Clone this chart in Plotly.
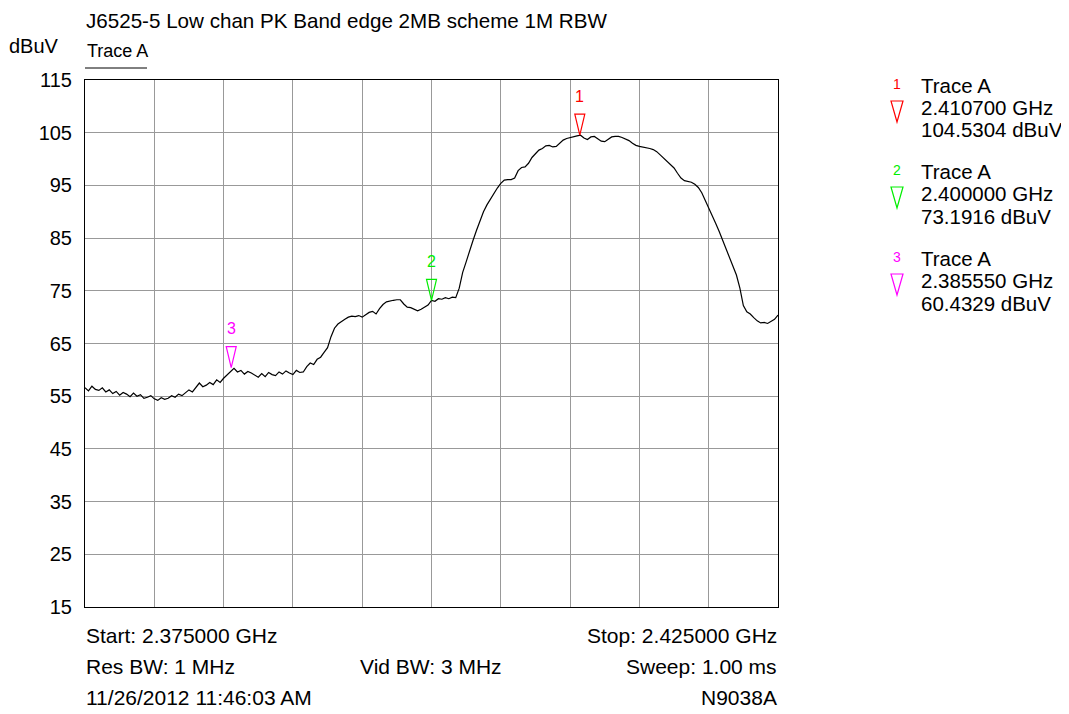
import numpy as np
import plotly.graph_objs as go

# sweep setup (GHz) - analyzer points are evenly spaced between start and stop
f_start = 2.375
f_stop = 2.425

# trace A amplitude, dBuV, every 0.25 MHz
trace_a = [
    56.6, 56.0, 56.9, 56.3, 56.1, 56.6, 55.8, 56.2, 55.5, 55.9,
    55.2, 55.7, 55.4, 54.9, 55.6, 55.0, 55.3, 54.6, 54.8, 55.1,
    54.5, 54.2, 54.7, 54.4, 54.6, 55.1, 54.8, 55.4, 55.1, 55.7,
    56.2, 55.8, 56.7, 57.5, 56.8, 57.1, 57.6, 57.2, 58.1, 57.6,
    58.4, 59.1, 59.6, 60.3, 59.6, 59.9, 59.2, 59.7, 59.4, 59.0,
    58.6, 59.3, 58.7, 59.5, 59.1, 58.9, 59.6, 59.2, 59.8, 59.4,
    59.1, 59.9, 59.5, 59.6, 60.6, 61.3, 61.0, 62.0, 62.4, 63.3,
    64.2, 66.3, 67.9, 68.7, 69.2, 69.6, 70.0, 70.2, 70.1, 70.3,
    70.0, 70.4, 70.9, 71.1, 70.6, 71.6, 72.4, 72.9, 73.1, 73.2,
    73.3, 73.3, 72.5, 71.9, 71.8, 71.5, 71.2, 71.5, 71.9, 72.3,
    73.19, 73.0, 73.5, 73.4, 73.7, 73.5, 73.8, 73.7, 75.5, 78.5,
    80.5, 82.8, 84.6, 86.5, 88.3, 90.0, 91.3, 92.4, 93.5, 94.5,
    95.4, 96.0, 96.1, 96.1, 96.4, 97.8, 98.4, 98.5, 99.2, 100.3,
    101.0, 101.7, 102.0, 102.5, 102.6, 102.3, 102.4, 103.0, 103.6, 103.9,
    104.1, 104.3, 104.4, 104.53, 104.0, 103.7, 104.2, 104.3, 103.8, 103.4,
    103.3, 103.7, 104.2, 104.3, 104.3, 104.1, 103.8, 103.5, 103.0, 102.6,
    102.4, 102.3, 102.2, 102.0, 101.8, 101.4, 100.8, 100.2, 99.5, 98.9,
    98.3, 97.3, 96.4, 95.9, 95.8, 95.6, 95.2, 94.6, 93.6, 92.2,
    90.9, 89.3, 87.8, 86.3, 84.6, 83.2, 81.5, 79.8, 78.0, 75.5,
    72.2, 71.0, 70.6, 69.9, 69.3, 68.9, 69.0, 68.8, 69.2, 69.6,
    70.4,
]

# markers
marker_ids = ['1', '2', '3']
marker_freq = [2.410700, 2.400000, 2.385550]
marker_level = [104.5304, 73.1916, 60.4329]
marker_colors = ['#ff0000', '#00ee00', '#ff00ff']

y_ticks = [15, 25, 35, 45, 55, 65, 75, 85, 95, 105, 115]

FONT = 'Liberation Sans, Arial, sans-serif'
W, H = 1069, 714
L, R, T, B = 85, 778, 80, 607
PAGE_OFF = 8  # page body margin pushes the figure right/down


def px(x):
    return (x - L) / (R - L)


def py(y):
    return (B - y) / (B - T)


def build():
    freqs = np.linspace(f_start, f_stop, len(trace_a))
    fig = go.Figure()
    fig.add_trace(go.Scatter(x=freqs, y=trace_a, mode='lines',
                             line=dict(color='black', width=1.2),
                             showlegend=False, hoverinfo='skip'))

    shapes = []
    annotations = []

    # marker triangles on the trace, tip sitting on the point
    for mid, f, v, c in zip(marker_ids, marker_freq, marker_level, marker_colors):
        shapes.append(dict(type='path', xref='x', yref='y',
                           xsizemode='pixel', ysizemode='pixel',
                           xanchor=f, yanchor=v,
                           path='M -5 21 L 5 21 L 0 0 Z',
                           line=dict(color=c, width=1.2),
                           fillcolor='rgba(0,0,0,0)'))
        annotations.append(dict(x=f, y=v, xref='x', yref='y', text=mid,
                                showarrow=False, yshift=39,
                                font=dict(size=16, color=c, family=FONT)))

    # marker table on the right
    group_top = [85, 171, 258]
    for mid, f, v, c, gy in zip(marker_ids, marker_freq, marker_level, marker_colors, group_top):
        lines = ['Trace A', '%.6f GHz' % f, '%.4f dBuV' % v]
        for k, t in enumerate(lines):
            annotations.append(dict(x=px(919), y=py(gy + k * 22.5), xref='paper', yref='paper',
                                    text=t, showarrow=False, xanchor='left', yanchor='middle',
                                    font=dict(size=20.5, color='black', family=FONT)))
        annotations.append(dict(x=px(897), y=py(gy - 1), xref='paper', yref='paper',
                                text=mid, showarrow=False, xanchor='center', yanchor='middle',
                                font=dict(size=14, color=c, family=FONT)))
        shapes.append(dict(type='path', xref='paper', yref='paper',
                           xsizemode='pixel', ysizemode='pixel',
                           xanchor=px(897), yanchor=py(gy + 37),
                           path='M -6 21 L 6 21 L 0 0 Z',
                           line=dict(color=c, width=1.2),
                           fillcolor='rgba(0,0,0,0)'))

    # header texts
    def txt(x, y, s, size=21, anchor='left'):
        annotations.append(dict(x=px(x), y=py(y), xref='paper', yref='paper', text=s,
                                showarrow=False, xanchor=anchor, yanchor='middle',
                                font=dict(size=size, color='black', family=FONT)))

    txt(84, 20, 'J6525-5 Low chan PK Band edge 2MB scheme 1M RBW', size=20.6)
    txt(7, 46, 'dBuV', size=20)
    txt(85, 51, 'Trace A', size=18)
    shapes.append(dict(type='line', xref='paper', yref='paper',
                       x0=px(85), x1=px(147), y0=py(68), y1=py(68),
                       line=dict(color='black', width=1)))

    # footer texts
    txt(84, 635, 'Start: 2.375000 GHz')
    txt(779, 635, 'Stop: 2.425000 GHz', anchor='right')
    txt(84, 666, 'Res BW: 1 MHz')
    txt(431, 666, 'Vid BW: 3 MHz', anchor='center')
    txt(779, 666, 'Sweep: 1.00 ms', anchor='right')
    txt(84, 697, '11/26/2012 11:46:03 AM')
    txt(779, 697, 'N9038A', anchor='right')

    l = L - PAGE_OFF
    t = T - PAGE_OFF
    fig.update_layout(
        width=W, height=H,
        margin=dict(l=l, r=W - l - (R - L), t=t, b=H - t - (B - T), pad=0),
        paper_bgcolor='white', plot_bgcolor='white',
        font=dict(family=FONT, color='black'),
        shapes=shapes, annotations=annotations,
        xaxis=dict(range=[f_start, f_stop], tickvals=list(np.linspace(f_start, f_stop, 11)),
                   showticklabels=False, ticks='', showgrid=True, gridcolor='#999999', gridwidth=1,
                   zeroline=False, showline=True, linecolor='black', linewidth=1, mirror=True),
        yaxis=dict(range=[15, 115], tickvals=y_ticks, ticktext=[str(v) for v in y_ticks],
                   ticks='', ticklabelstandoff=8, tickfont=dict(size=20, family=FONT),
                   showgrid=True, gridcolor='#999999', gridwidth=1,
                   zeroline=False, showline=True, linecolor='black', linewidth=1, mirror=True),
    )
    return fig


if __name__ == '__main__':
    fig = build()
    fig.write_html('out.html')
